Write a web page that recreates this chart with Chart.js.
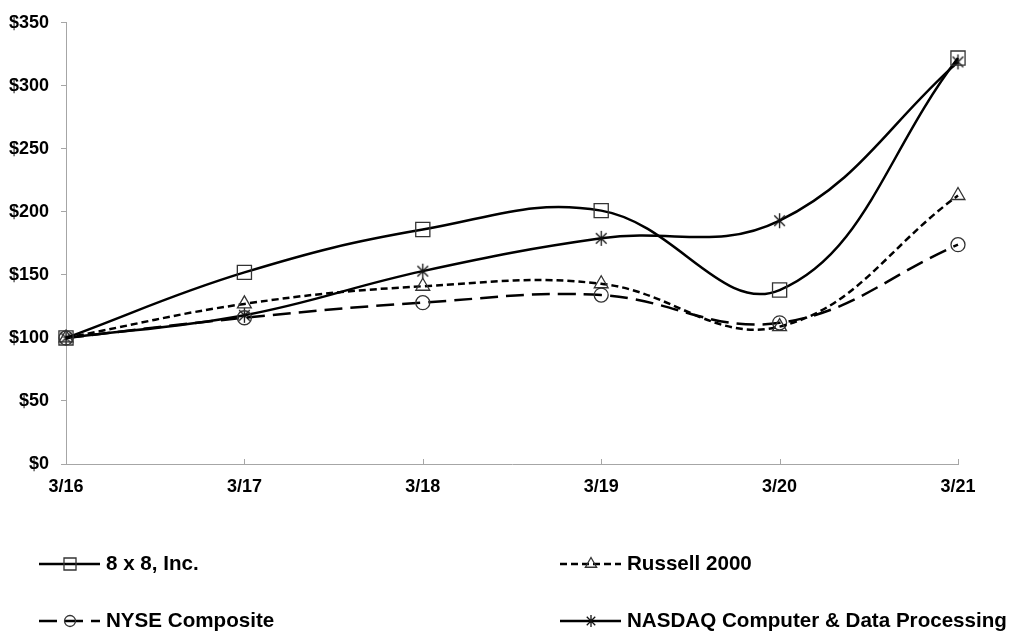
<!DOCTYPE html>
<html><head><meta charset="utf-8">
<script src="https://cdn.jsdelivr.net/npm/chart.js@4"></script>
<style>html,body{margin:0;padding:0;background:#fff}#wrap{width:1012px;height:633px}</style>
</head><body><div id="wrap"><canvas id="c" width="1012" height="633"></canvas></div>
<script>
const categories = ['3/16','3/17','3/18','3/19','3/20','3/21'];
const eightByEight = [100,152,186,201,138,322];
const russell2000 = [100,127,141,143,109,213];
const nyseComposite = [100,116,128,134,112,174];
const nasdaqCDP = [100,118,153,179,193,319];
const seriesNames = ['8 x 8, Inc.','Russell 2000','NYSE Composite','NASDAQ Computer & Data Processing'];
const yMin = 0, yMax = 350, yStep = 50;

// asterisk marker
function makeAsterisk(size){
  const s = size, c = document.createElement('canvas');
  c.width = s; c.height = s;
  const g = c.getContext('2d');
  g.strokeStyle = '#111'; g.lineWidth = 1.3;
  const m = s/2, r = s/2 - 1, d = r*Math.SQRT1_2;
  g.beginPath();
  g.moveTo(m, m-r); g.lineTo(m, m+r);
  g.moveTo(m-d, m-d); g.lineTo(m+d, m+d);
  g.moveTo(m+d, m-d); g.lineTo(m-d, m+d);
  g.stroke();
  return c;
}
const asterisk = makeAsterisk(17);
const asteriskSmall = makeAsterisk(14);

const GRAY = '#a6a6a6';
const FONT = 'Arial, "Liberation Sans", sans-serif';

const datasets = [
  {label: seriesNames[0], data: eightByEight, borderColor:'#000', borderWidth:2.5, borderDash:[],
   pointStyle:'rect', pointRadius:10, pointBorderColor:'#333', pointBorderWidth:1.3, pointBackgroundColor:'rgba(0,0,0,0)'},
  {label: seriesNames[1], data: russell2000, borderColor:'#000', borderWidth:2.5, borderDash:[7,4],
   pointStyle:'triangle', pointRadius:8, pointBorderColor:'#333', pointBorderWidth:1.3, pointBackgroundColor:'rgba(0,0,0,0)'},
  {label: seriesNames[2], data: nyseComposite, borderColor:'#000', borderWidth:2.5, borderDash:[18,8],
   pointStyle:'circle', pointRadius:7, pointBorderColor:'#333', pointBorderWidth:1.3, pointBackgroundColor:'rgba(0,0,0,0)'},
  {label: seriesNames[3], data: nasdaqCDP, borderColor:'#000', borderWidth:2.5, borderDash:[],
   pointStyle:asterisk, pointRadius:8, pointBorderColor:'#111', pointBorderWidth:1.3, pointBackgroundColor:'rgba(0,0,0,0)'}
];
datasets.forEach(d => { d.tension = 0.4; d.fill = false; d.capBezierPoints = false; });

const legendPos = [
  {x:39, y:564, r:8.5, dashOff:0}, {x:560, y:564, r:6.5, dashOff:0},
  {x:39, y:621, r:5.5, dashOff:0}, {x:560, y:621, r:7, dashOff:0}
];

const extras = {
  id:'extras',
  afterDraw(chart){
    const ctx = chart.ctx;
    const xs = chart.scales.x, area = chart.chartArea;
    ctx.save();
    // inward x ticks
    ctx.strokeStyle = GRAY; ctx.lineWidth = 1;
    for (let i = 0; i < categories.length; i++){
      const px = Math.round(xs.getPixelForTick(i)) + 0.5;
      ctx.beginPath(); ctx.moveTo(px, area.bottom - 5); ctx.lineTo(px, area.bottom); ctx.stroke();
    }
    // legend
    chart.data.datasets.forEach((ds, i) => {
      const p = legendPos[i];
      ctx.strokeStyle = ds.borderColor; ctx.lineWidth = ds.borderWidth;
      ctx.setLineDash(ds.borderDash || []);
      ctx.beginPath(); ctx.moveTo(p.x, p.y); ctx.lineTo(p.x + 61, p.y); ctx.stroke();
      ctx.setLineDash([]);
      ctx.strokeStyle = ds.pointBorderColor; ctx.fillStyle = 'rgba(0,0,0,0)';
      ctx.lineWidth = ds.pointBorderWidth;
      const ps = (i === 3) ? asteriskSmall : ds.pointStyle;
      Chart.helpers.drawPoint(ctx, {pointStyle: ps, rotation:0, radius: p.r, borderWidth: ds.pointBorderWidth}, p.x + 31, p.y);
      ctx.fillStyle = '#000'; ctx.font = 'bold 20.6px ' + FONT;
      ctx.textBaseline = 'middle'; ctx.textAlign = 'left';
      ctx.fillText(ds.label, p.x + 67, p.y);
    });
    ctx.restore();
  }
};

new Chart(document.getElementById('c'), {
  type:'line',
  data:{labels: categories, datasets},
  options:{
    responsive:false, animation:false, devicePixelRatio:1,
    layout:{padding:{left:0, right:54, top:22, bottom:0}},
    plugins:{legend:{display:false}, tooltip:{enabled:false}},
    scales:{
      y:{
        min:yMin, max:yMax,
        ticks:{stepSize:yStep, callback:v => '$' + v, color:'#000', font:{family:FONT, size:18, weight:'bold'}, padding:12},
        grid:{drawOnChartArea:false, drawTicks:true, tickLength:5, color:GRAY, lineWidth:1},
        border:{color:GRAY, width:1},
        afterFit(s){ s.width = 66; }
      },
      x:{
        offset:false,
        ticks:{color:'#000', font:{family:FONT, size:18, weight:'bold'}, padding:12, maxRotation:0},
        grid:{drawOnChartArea:false, drawTicks:false, color:GRAY},
        border:{color:GRAY, width:1},
        afterFit(s){ s.height = 169; }
      }
    }
  },
  plugins:[extras]
});
</script></body></html>
